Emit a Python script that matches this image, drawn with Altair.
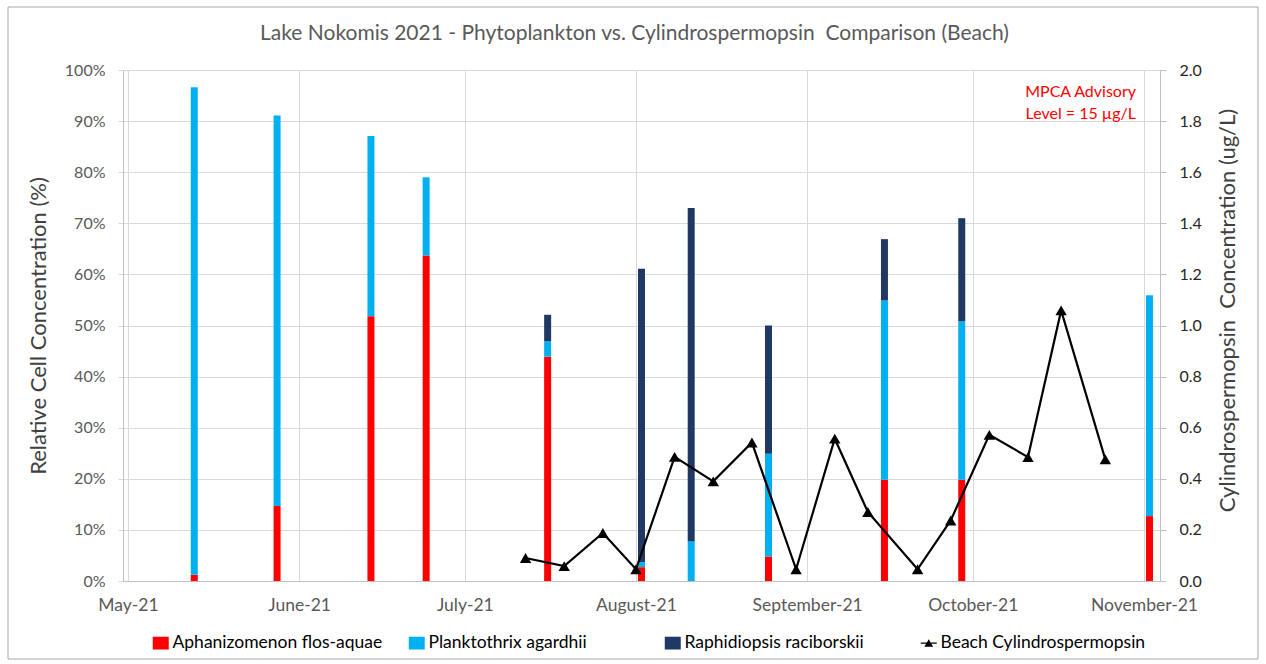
import altair as alt
import pandas as pd

# ---- data ----
bar_dates = ["2021-05-13", "2021-05-28", "2021-06-14", "2021-06-24", "2021-07-16",
             "2021-08-02", "2021-08-11", "2021-08-25", "2021-09-15", "2021-09-29", "2021-11-02"]
aphanizomenon = [1.2, 14.7, 51.8, 63.7, 43.9, 2.7, 0.0, 4.8, 19.8, 19.8, 12.7]
planktothrix = [95.4, 76.4, 35.3, 15.3, 3.0, 1.0, 7.8, 20.1, 35.1, 31.0, 43.2]
raphidiopsis = [0.0, 0.0, 0.0, 0.0, 5.2, 57.4, 65.2, 25.1, 12.0, 20.2, 0.0]

cyl_dates = ["2021-07-12", "2021-07-19", "2021-07-26", "2021-08-01", "2021-08-08",
             "2021-08-15", "2021-08-22", "2021-08-30", "2021-09-06", "2021-09-12",
             "2021-09-21", "2021-09-27", "2021-10-04", "2021-10-11", "2021-10-17",
             "2021-10-25"]
cyl_values = [0.09, 0.058, 0.188, 0.046, 0.486, 0.39, 0.542, 0.046, 0.557, 0.27,
              0.046, 0.237, 0.572, 0.485, 1.059, 0.476]

series_names = ["Aphanizomenon flos-aquae", "Planktothrix agardhii",
                "Raphidiopsis raciborskii", "Beach Cylindrospermopsin"]
series_colors = ["#FF0000", "#00B0F0", "#1F3864", "#000000"]
series_shapes = ["M-1,-0.8H1V0.8H-1Z", "M-1,-0.8H1V0.8H-1Z", "M-1,-0.8H1V0.8H-1Z",
                 "M-1,-0.08H1V0.08H-1Z M-0.55,0.45L0,-0.5L0.55,0.45Z"]

month_ticks = [alt.DateTime(year=2021, month=m, date=1) for m in range(5, 12)]
annotation = ["MPCA Advisory", "Level = 15 µg/L"]
title_text = "Lake Nokomis 2021 - Phytoplankton vs. Cylindrospermopsin\u00a0 Comparison (Beach)"
left_title = "Relative Cell Concentration (%)"
right_title = "Cylindrospermopsin\u00a0 Concentration (ug/L)"

FONT = "Lato"
GRAY = "#595959"

# ---- tables ----
rows = []
for d, a, p, r in zip(bar_dates, aphanizomenon, planktothrix, raphidiopsis):
    for k, (name, v) in enumerate(zip(series_names[:3], [a, p, r])):
        rows.append({"date": d + "T00:00:00", "series": name, "value": v, "order": k})
bars_df = pd.DataFrame(rows)
line_df = pd.DataFrame({"date": [d + "T00:00:00" for d in cyl_dates],
                        "conc": cyl_values,
                        "series": series_names[3]})
legend_df = pd.DataFrame({"series": series_names})

color_scale = alt.Scale(domain=series_names, range=series_colors)
shape_scale = alt.Scale(domain=series_names, range=series_shapes)
x_scale = alt.Scale(domain=[alt.DateTime(year=2021, month=5, date=1),
                            alt.DateTime(year=2021, month=11, date=3)])

legend_def = alt.Legend(title=None, orient="none", direction="horizontal",
                        legendX=29, legendY=564, symbolSize=256,
                        symbolOpacity=1, symbolStrokeWidth=0,
                        labelFont=FONT, labelFontSize=17.5, labelColor="#000000",
                        labelOffset=3, columnPadding=25, gridAlign="all",
                        labelLimit=400)

x_axis = alt.Axis(values=month_ticks, format="%B-%y", formatType="time", title=None,
                  labelFont=FONT, labelFontSize=17.5, labelColor=GRAY, labelFlush=False,
                  labelPadding=15, grid=True, gridColor="#D9D9D9", ticks=False,
                  domainColor="#BFBFBF", labelOverlap=False)

bars = alt.Chart(bars_df).mark_bar(size=7).encode(
    x=alt.X("date:T", scale=x_scale, axis=x_axis),
    y=alt.Y("value:Q", stack="zero",
            scale=alt.Scale(domain=[0, 100], nice=False),
            axis=alt.Axis(values=list(range(0, 101, 10)), labelExpr="datum.value + '%'",
                          title=left_title,
                          titleFont=FONT, titleFontSize=22, titleFontWeight="normal",
                          titleColor="#404040", titlePadding=14,
                          labelFont=FONT, labelFontSize=16, labelColor=GRAY,
                          labelPadding=13, grid=True, gridColor="#D9D9D9",
                          tickColor="#D9D9D9", tickSize=5, domainColor="#BFBFBF")),
    color=alt.Color("series:N", scale=color_scale, legend=legend_def),
    order=alt.Order("order:Q"),
)

line = alt.Chart(line_df).mark_line(
    color="black", strokeWidth=2.2,
    point=alt.OverlayMarkDef(shape="triangle-up", size=130, filled=True, color="black"),
).encode(
    x=alt.X("date:T", scale=x_scale),
    y=alt.Y("conc:Q", scale=alt.Scale(domain=[0, 2], nice=False),
            axis=alt.Axis(orient="right", values=[i / 10 for i in range(0, 21, 2)],
                          format=".1f", grid=False,
                          title=right_title,
                          titleFont=FONT, titleFontSize=22, titleFontWeight="normal",
                          titleColor="#404040", titlePadding=16, titleAngle=270,
                          titleBaseline="top", titleY=240,
                          labelFont=FONT, labelFontSize=16, labelColor="#262626",
                          labelPadding=13, tickColor="#BFBFBF", tickSize=6,
                          domainColor="#BFBFBF")),
)

legend_layer = alt.Chart(legend_df).mark_point(filled=True, opacity=0).encode(
    color=alt.Color("series:N", scale=color_scale, legend=legend_def),
    shape=alt.Shape("series:N", scale=shape_scale, legend=legend_def),
)

note = alt.Chart(pd.DataFrame({"t": [0]})).mark_text(
    text=annotation, align="right", baseline="alphabetic", font=FONT, fontSize=16,
    color="#FF0000", lineHeight=22,
).encode(x=alt.value(1013), y=alt.value(27))

frame = alt.Chart(pd.DataFrame({"t": [0]})).mark_rect(
    fill=None, fillOpacity=0, stroke="#A6A6A6", strokeWidth=1,
).encode(x=alt.value(-115), x2=alt.value(1135), y=alt.value(-63), y2=alt.value(589))

chart = alt.layer(frame, bars, line, legend_layer, note).resolve_scale(
    y="independent"
).properties(
    width=1037, height=511,
    autosize=alt.AutoSizeParams(type="none"),
    padding={"left": 123, "top": 70, "right": 106, "bottom": 83},
    title=alt.TitleParams(
        title_text, font=FONT, fontSize=21, fontWeight="normal", color=GRAY,
        offset=-58, anchor="middle", frame="group", dx=-7, baseline="bottom"),
    background="white",
).configure_view(stroke=None)

chart.save("out.html", embed_options={"renderer": "svg", "actions": False})
